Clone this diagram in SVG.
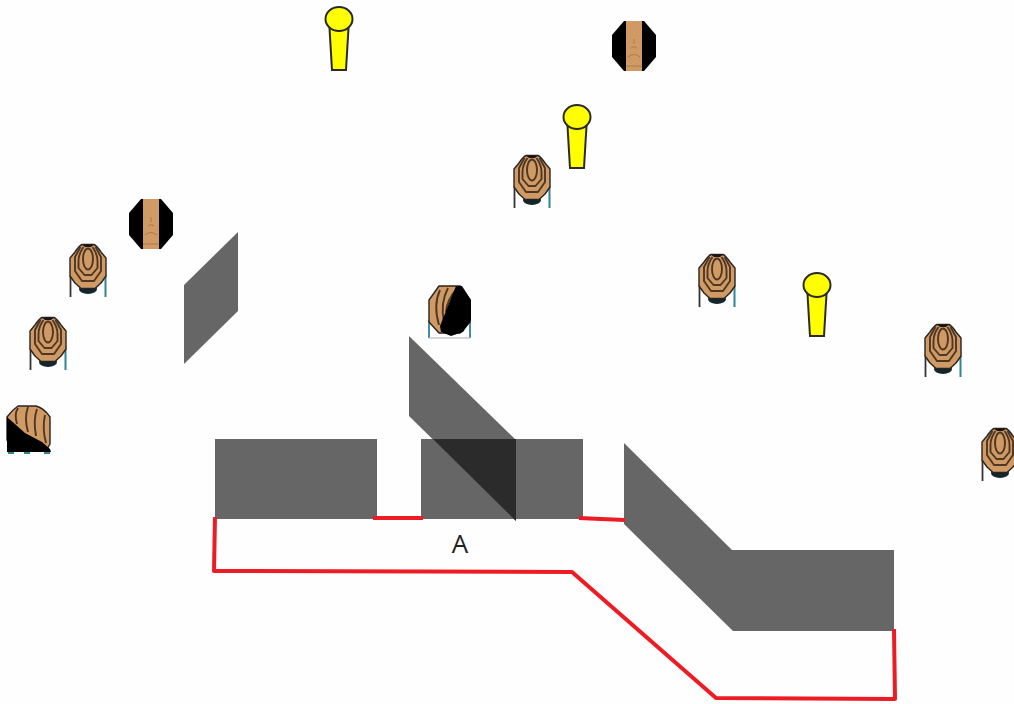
<svg xmlns="http://www.w3.org/2000/svg" width="1014" height="704" viewBox="0 0 1014 704">
<style>
.wall{fill:#666}
.over{fill:#2b2b2b}
.red{fill:none;stroke:#ed1c24;stroke-width:4;stroke-linejoin:round}
.skin{fill:#cf9a63;stroke:#2a2320;stroke-width:1.4;stroke-linejoin:round}
.ring{fill:none;stroke:#4f3725;stroke-width:1.900;stroke-linejoin:round}
.thin{fill:none;stroke:#a87c50;stroke-width:1}
.blk{fill:#000}
.lamp{fill:#ffff00;stroke:#2a2a2a;stroke-width:2}
text{font-family:"Open Sans","Liberation Sans",sans-serif;font-size:26px;fill:#222}
</style>
<defs>
<g id="front">
<path d="M-17.500 31V53" fill="none" stroke="#333" stroke-width="1.800"/>
<path d="M17.500 31V53" fill="none" stroke="#2f8595" stroke-width="2"/>
<ellipse cx="0" cy="45" rx="9" ry="5" fill="#12262c"/>
<path class="skin" d="M-6 0.500H6Q9 2 13 8L18 14V32L13 39L7 44.500H-7L-13 39L-18 32V14L-13 8Q-9 2 -6 0.500Z"/>
<path d="M-6 0.500H6L3 3H-3Z" fill="#1a1410"/>
<path class="ring" d="M-7.500 3L-13 13V27L-6 37H6L13 27V13L7.500 3"/>
<path class="ring" d="M-4.500 3Q-9.500 10 -9.500 17V24L-3.500 31H3.500L9.500 24V17Q9.500 10 4.500 3"/>
<ellipse class="ring" cx="0" cy="15" rx="5" ry="10.500"/>
</g>
<g id="back">
<path class="blk" d="M-10 0H10L22 14V36L10 50H-10L-22 36V14Z"/>
<path d="M-8 0H8V50H-8Z" fill="#cf9a63"/>
<path class="thin" d="M-8 45H8M-6 36Q0 31 6 36M-3 27Q0 24 3 27M0 18V23"/>
</g>
<g id="lamp">
<path class="lamp" d="M-9.500 21L9.500 21L7 63H-7Z"/>
<ellipse class="lamp" cx="0" cy="12" rx="13.500" ry="12"/>
</g>
</defs>
<rect width="1014" height="704" fill="#fefefe"/>
<g id="walls">
<polygon class="wall" points="184,285 238,232 238,311 184,364"/>
<rect class="wall" x="215" y="439" width="162" height="80"/>
<rect class="wall" x="421" y="439" width="162" height="80"/>
<polygon class="wall" points="409,336 516,440 516,521 409,416"/>
<polygon class="over" points="433,439 516,439 516,521"/>
<polygon class="wall" points="624,443 732,550 894,550 894,631 733,631 624,524"/>
</g>
<g id="connectors">
<polyline class="red" points="215,517 214,571 572,572 716,698 895,699 894,629"/>
<polyline class="red" points="373,518 423,518"/>
<polyline class="red" points="579,518 601,519 625,520"/>
</g>
<text id="label-a" x="460" y="553" text-anchor="middle">A</text>
<g id="lamp-1"><use href="#lamp" x="339" y="7"/></g>
<g id="lamp-2"><use href="#lamp" x="577" y="105"/></g>
<g id="lamp-3"><use href="#lamp" x="817" y="273"/></g>
<g id="target-back-1"><use href="#back" x="634" y="21"/></g>
<g id="target-back-2"><use href="#back" x="151" y="199"/></g>
<g id="target-1"><use href="#front" x="88" y="244"/></g>
<g id="target-2"><use href="#front" x="48" y="317"/></g>
<g id="target-3"><use href="#front" x="532" y="155"/></g>
<g id="target-4"><use href="#front" x="717" y="254"/></g>
<g id="target-5"><use href="#front" x="943" y="324"/></g>
<g id="target-6"><use href="#front" x="1000" y="428"/></g>
<g id="target-half-1">
<path class="skin" d="M18 406H36Q44 408 50 417V444L46 451H12L7 440V417Q12 410 18 406Z"/>
<path class="ring" d="M18 408Q14 414 17 424M28 407Q24 418 28 432M37 409Q33 420 36 436M45 415Q42 428 46 443"/>
<polygon class="blk" points="7,417 25,433 42,442 50,449 51,452 7,452"/>
<path d="M8 453H14M24 453H30M44 453H50" fill="none" stroke="#2f8595" stroke-width="2"/>
</g>
<g id="target-half-2">
<path d="M429 320V338M470 320V338" fill="none" stroke="#2f8595" stroke-width="1.800"/>
<path d="M429 338H470" stroke="#c9c9c9" stroke-width="1.500"/>
<path class="skin" d="M439 286H460L470 300V322L460 333H439L429 322V300Z"/>
<path class="ring" d="M440 290Q433 305 439 325M448 288Q440 303 444 322M456 290Q447 300 446 312"/>
<path class="blk" d="M456 286H462L471 300V320L463 332L451 336L441 332L440 326Z"/>
</g>
</svg>
